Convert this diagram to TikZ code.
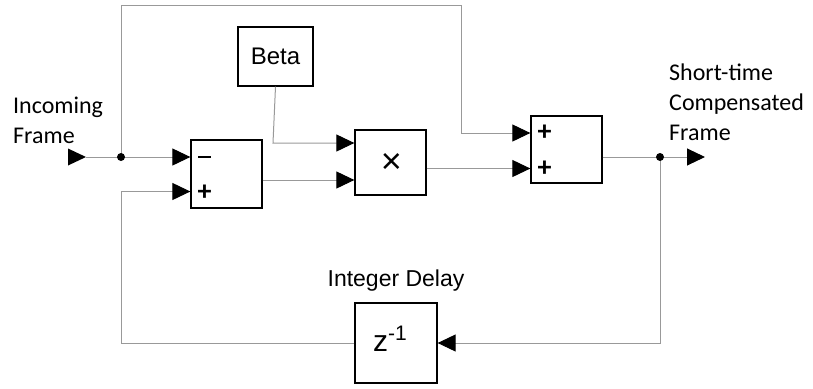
\documentclass[tikz,border=0pt]{standalone}
\usepackage{fontspec}
\setmainfont{Carlito}
\newfontfamily\arialf{Liberation Sans}
\usetikzlibrary{arrows.meta}
\begin{document}
\begin{tikzpicture}[x=1pt,y=-1pt,
  blk/.style={draw=black,line width=1.3pt,fill=white,inner sep=0pt},
  wire/.style={draw=black!40,line width=1pt},
  arr/.style={wire,-{Triangle[length=18pt,width=17pt,color=black]}},
  sgn/.style={font=\fontsize{28}{28}\selectfont\bfseries,inner sep=0pt},
  lbl/.style={font=\fontsize{24}{30}\selectfont,align=left,inner sep=0pt,anchor=west}]
\useasboundingbox (0,0) rectangle (813,388);
% blocks
\node[blk,minimum width=71pt,minimum height=68pt] (sub) at (226.5,174) {};
\node[blk,minimum width=71pt,minimum height=65pt] (mul) at (390.5,162.5) {};
\node[inner sep=0pt,font=\arialf\fontsize{36}{36}\selectfont] (times) at (391.5,163) {×};
\node[blk,minimum width=71pt,minimum height=67pt] (sum) at (566.5,149.5) {};
\node[blk,minimum width=75pt,minimum height=59pt] (beta) at (275.5,56.5) {\arialf\fontsize{24}{24}\selectfont Beta};
\node[blk,minimum width=82pt,minimum height=80pt] (del) at (396,343) {};
\node[inner sep=0pt,anchor=base,font=\arialf\fontsize{30}{30}\selectfont] (zinv) at (390,351) {z\raisebox{11pt}{\arialf\fontsize{21}{21}\selectfont -1}};
% signs
\node[inner sep=0pt] (s1) at (204.5,157) {\rule{13pt}{2.8pt}};
\node[sgn] (s2) at (204.5,192.5) {+};
\node[sgn] (s3) at (544.5,133) {+};
\node[sgn] (s4) at (544.5,169) {+};
% labels
\node[lbl] (lin) at (13,120) {Incoming\\Frame};
\node[lbl] (lout) at (669,102) {Short-time\\Compensated\\Frame};
\node[inner sep=0pt,font=\arialf\fontsize{23}{23}\selectfont] (ldel) at (396,281) {Integer Delay};
% coordinates
\coordinate (inp) at (86,157);
\coordinate (j1) at (121,157);
\coordinate (j2) at (660,157);
\coordinate (out) at (705,157);
% input triangle
\fill[black] (inp) -- ++(-18,-8.5) -- ++(0,17) -- cycle;
\draw[wire] (inp) -- (j1);
\draw[arr] (j1) -- (sub.west |- j1);
\draw[arr] (j1) -- (121,5) -- (461,5) -- (461,133) -- (sum.west |- 0,133);
\draw[arr] (beta.south) -- (273,143) -- (mul.west |- 0,143);
\draw[arr] (sub.east |- 0,180) -- (mul.west |- 0,180);
\draw[arr] (mul.east |- 0,168.5) -- (sum.west |- 0,168.5);
\draw[wire] (sum.east |- j2) -- (j2);
\draw[arr] (j2) -- (out);
\draw[arr] (j2) -- (660,343) -- (del.east);
\draw[arr] (del.west) -- (121,343) -- (121,191.5) -- (sub.west |- 0,191.5);
\fill (j1) circle (4pt);
\fill (j2) circle (4pt);
\end{tikzpicture}
\end{document}
